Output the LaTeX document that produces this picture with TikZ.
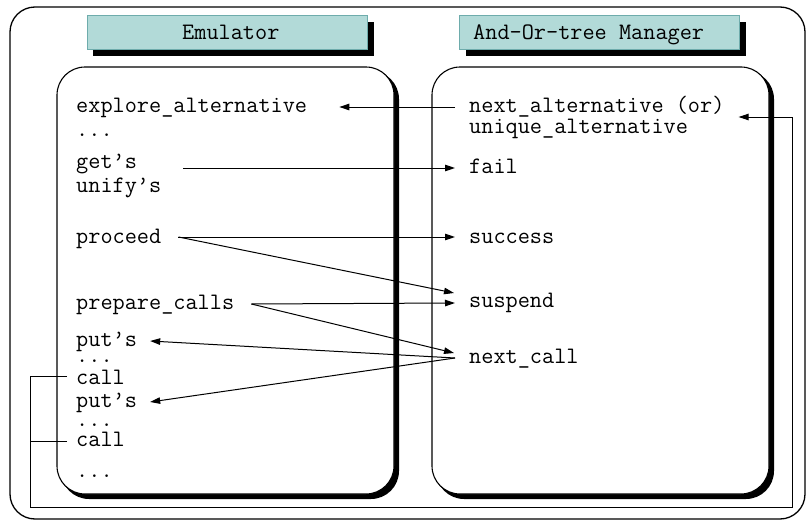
\documentclass[tikz,border=0pt]{standalone}
\usepackage{fontspec}
\usetikzlibrary{arrows.meta}
\definecolor{titlefill}{RGB}{178,218,216}
\definecolor{titledraw}{RGB}{110,172,172}
\begin{document}
\begin{tikzpicture}[x=1pt,y=-1pt,
  txt/.style={font=\ttfamily\fontsize{23.6}{26}\selectfont, inner sep=0pt, anchor=base west},
  conn/.style={line width=1pt, -{Triangle[length=10pt,width=6.5pt]}},
  plain/.style={line width=1pt},
  panel/.style={draw=black, fill=white, line width=1.1pt, rounded corners=28pt},
  panelshadow/.style={fill=black, rounded corners=28pt},
  titlebox/.style={draw=titledraw, fill=titlefill, line width=1pt},
  titleshadow/.style={fill=black},
  outer/.style={draw=black, line width=1.3pt, rounded corners=25pt}]
\useasboundingbox (0,0) rectangle (807,522);
% outer frame
\draw[outer] (10,7) rectangle (805,519);
% title boxes
\fill[titleshadow] (93,22) rectangle (374,56);
\draw[titlebox] (87,15) rectangle (367,49);
\node[txt] (temu) at (182,39) {Emulator};
\fill[titleshadow] (466,22) rectangle (746,56);
\draw[titlebox] (459,15) rectangle (739,49);
\node[txt] (tmgr) at (473,39) {And-Or-tree Manager};
% panels
\fill[panelshadow] (61,71) rectangle (399,499);
\draw[panel] (57,67) rectangle (394,494);
\fill[panelshadow] (436,71) rectangle (774,499);
\draw[panel] (432,67) rectangle (769,494);
% emulator texts (baselines)
\node[txt] (expl) at (76,112) {explore\_alternative};
\node[txt] (dots1) at (76,136) {...};
\node[txt] (gets) at (76,168) {get’s};
\node[txt] (unif) at (76,192) {unify’s};
\node[txt] (proc) at (76,243) {proceed};
\node[txt] (prep) at (76,309) {prepare\_calls};
\node[txt] (puts1) at (76,346) {put’s};
\node[txt] (dots2) at (76,362) {...};
\node[txt] (call1) at (76,384) {call};
\node[txt] (puts2) at (76,407) {put’s};
\node[txt] (dots3) at (76,426) {...};
\node[txt] (call2) at (76,446) {call};
\node[txt] (dots4) at (76,477) {...};
% manager texts (baselines)
\node[txt] (nalt) at (469,112) {next\_alternative (or)};
\node[txt] (ualt) at (469,133) {unique\_alternative};
\node[txt] (fail) at (469,173) {fail};
\node[txt] (succ) at (469,243) {success};
\node[txt] (susp) at (469,307) {suspend};
\node[txt] (ncall) at (469,363) {next\_call};
% connectors (5pt above the baseline = middle of the small letters)
\draw[conn] ([xshift=-14pt,yshift=5pt]nalt.base west) -- ([xshift=32pt,yshift=5pt]expl.base east);
\coordinate (g1) at ([xshift=46pt,yshift=5pt]gets.base east);
\coordinate (f1) at ([xshift=-14pt,yshift=5pt]fail.base west);
\draw[conn] (g1 |- f1) -- (f1);
\coordinate (p1) at ([xshift=17pt,yshift=6pt]proc.base east);
\draw[conn] (p1) -- ([xshift=-14pt,yshift=6pt]succ.base west);
\draw[conn] (p1) -- ([xshift=-15pt,yshift=14pt]susp.base west);
\coordinate (r1) at ([xshift=17pt,yshift=5pt]prep.base east);
\draw[conn] (r1) -- ([xshift=-14pt,yshift=4pt]susp.base west);
\draw[conn] (r1) -- ([xshift=-15pt,yshift=10pt]ncall.base west);
\coordinate (n1) at ([xshift=-14pt,yshift=5pt]ncall.base west);
\draw[conn] (n1) -- ([xshift=13pt,yshift=5pt]puts1.base east);
\draw[conn] (n1) -- ([xshift=13pt,yshift=5pt]puts2.base east);
% feedback from the calls to next_alternative
\coordinate (c1) at ([xshift=-9pt,yshift=8pt]call1.base west);
\coordinate (c2) at ([xshift=-9pt,yshift=5pt]call2.base west);
\coordinate (fbL) at (30,507);
\coordinate (fbR) at (792,507);
\coordinate (tgt) at ([xshift=14pt,yshift=-5pt]nalt.base east);
\draw[conn] (c1) -- (c1 -| fbL) -- (fbL) -- (fbR) -- (fbR |- tgt) -- (tgt);
\draw[plain] (c2) -- (c2 -| fbL);
\end{tikzpicture}
\end{document}
